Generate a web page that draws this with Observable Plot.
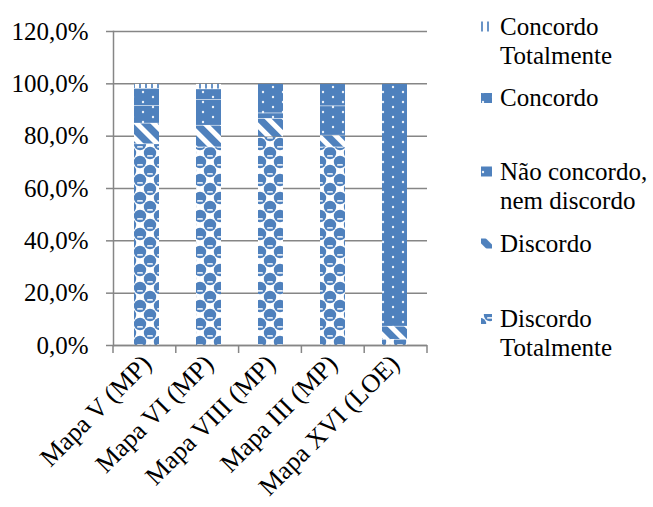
<!DOCTYPE html>
<html>
<head>
<meta charset="utf-8">
<script src="https://cdn.jsdelivr.net/npm/d3@7"></script>
<script src="https://cdn.jsdelivr.net/npm/@observablehq/plot@0.6"></script>
<style>
  body { margin: 0; background: #fff; }
  #chart { position: relative; width: 653px; height: 507px; font-family: "Liberation Serif", serif; }
  #legend { position: absolute; left: 0; top: 0; pointer-events: none; }
</style>
</head>
<body>
<!-- Fill patterns shared by the bars and the legend swatches -->
<svg width="0" height="0" style="position:absolute">
  <defs>
    <pattern id="pCT" patternUnits="userSpaceOnUse" width="6" height="8">
      <rect width="6" height="8" fill="#fff"/>
      <rect x="1" width="2" height="8" fill="#4f81bd" opacity="0.85"/>
    </pattern>
    <pattern id="pC" patternUnits="userSpaceOnUse" width="20" height="10">
      <rect width="20" height="10" fill="#4f81bd"/>
      <circle cx="3" cy="2" r="1.2" fill="#fff" opacity="0.9"/>
      <circle cx="13" cy="7" r="1.2" fill="#fff" opacity="0.9"/>
    </pattern>
    <pattern id="pN" patternUnits="userSpaceOnUse" width="20" height="10">
      <rect width="20" height="10" fill="#4f81bd"/>
      <circle cx="3" cy="2" r="1.2" fill="#fff" opacity="0.9"/>
      <circle cx="13" cy="7" r="1.2" fill="#fff" opacity="0.9"/>
    </pattern>
    <pattern id="pD" patternUnits="userSpaceOnUse" width="12" height="12" patternTransform="rotate(-45)">
      <rect width="12" height="12" fill="#fff"/>
      <rect width="7" height="12" fill="#4f81bd"/>
    </pattern>
    <pattern id="pDT" patternUnits="userSpaceOnUse" width="20" height="18">
      <rect width="20" height="18" fill="#fff"/>
      <g fill="#4f81bd">
        <circle cx="0" cy="0" r="6.2"/>
        <circle cx="20" cy="0" r="6.2"/>
        <circle cx="0" cy="18" r="6.2"/>
        <circle cx="20" cy="18" r="6.2"/>
        <circle cx="10" cy="9" r="6.2"/>
      </g>
      <g fill="#e4ecf6">
        <rect x="7" y="11" width="6" height="1.8" rx="0.9"/>
        <rect x="-3" y="2" width="6" height="1.8" rx="0.9"/>
        <rect x="17" y="2" width="6" height="1.8" rx="0.9"/>
        <rect x="-3" y="20" width="6" height="1.8" rx="0.9"/>
        <rect x="17" y="20" width="6" height="1.8" rx="0.9"/>
      </g>
    </pattern>
  </defs>
</svg>
<div id="chart"></div>
<script>
// Maps evaluated and the five answer levels (bottom of the stack first)
const mapas = ["Mapa V (MP)", "Mapa VI (MP)", "Mapa VIII (MP)", "Mapa III (MP)", "Mapa XVI (LOE)"];
const respostas = ["Discordo Totalmente", "Discordo", "Não concordo, nem discordo", "Concordo", "Concordo Totalmente"];

// Share of answers per map (%)
const discordoTotalmente = [77.0, 75.8, 79.7, 75.8, 2.3];
const discordo           = [7.9, 8.3, 7.0, 4.5, 5.0];
const naoConcordo        = [6.8, 9.8, 2.1, 11.2, 0];
const concordo           = [6.5, 4.1, 11.2, 8.5, 92.7];
const concordoTotalmente = [1.8, 2.0, 0, 0, 0];

const yTicks = [0, 20, 40, 60, 80, 100, 120];

// Legend text, top entry first, split the way it wraps
const legendLines = [
  ["Concordo", "Totalmente"],
  ["Concordo"],
  ["Não concordo,", "nem discordo"],
  ["Discordo"],
  ["Discordo", "Totalmente"]
];

const fills = ["url(#pDT)", "url(#pD)", "url(#pN)", "url(#pC)", "url(#pCT)"];
const series = [discordoTotalmente, discordo, naoConcordo, concordo, concordoTotalmente];

const rows = [];
mapas.forEach((mapa, i) => {
  respostas.forEach((resposta, j) => {
    rows.push({mapa, resposta, valor: series[j][i]});
  });
});

const serif = "Liberation Serif, serif";
const fontSize = 25;
const axisGray = "#868686";
const pct = d => d.toFixed(1).replace(".", ",") + "%";

const plot = Plot.plot({
  width: 653,
  height: 507,
  marginLeft: 113,
  marginRight: 226,
  marginTop: 31,
  marginBottom: 162,
  style: {fontFamily: serif, fontSize: fontSize + "px", color: "#000", background: "#fff"},
  x: {domain: mapas, paddingInner: 0.6, paddingOuter: 0.3, label: null},
  y: {domain: [0, 120], ticks: yTicks, label: null},
  color: {domain: respostas, range: fills},
  marks: [
    Plot.gridY(yTicks, {stroke: axisGray, strokeOpacity: 1, strokeWidth: 1.5}),
    Plot.barY(rows.filter(d => d.valor > 0), {
      x: "mapa", y: "valor", fill: "resposta", insetTop: 0.6
    }),
    Plot.ruleY([0], {stroke: axisGray, strokeWidth: 1.5}),
    Plot.frame({anchor: "left", stroke: axisGray, strokeWidth: 1.5}),
    Plot.axisY(yTicks, {tickSize: 7, tickPadding: 18, stroke: axisGray, strokeWidth: 1.5, fill: "#000",
      tickFormat: pct, fontSize, fontFamily: serif}),
    Plot.axisX({tickSize: 0, tickRotate: -45, tickPadding: 14, fill: "#000", fontSize: 26, fontFamily: serif}),
    // category boundary ticks below the x axis
    (index, scales, values, dims) => {
      const g = d3.create("svg:g").attr("stroke", axisGray).attr("stroke-width", 1.5);
      const x0 = dims.marginLeft;
      const step = (dims.width - dims.marginLeft - dims.marginRight) / mapas.length;
      const yb = dims.height - dims.marginBottom;
      for (let i = 0; i <= mapas.length; i++) {
        g.append("line").attr("x1", x0 + i * step).attr("x2", x0 + i * step).attr("y1", yb).attr("y2", yb + 8);
      }
      return g.node();
    }
  ]
});

const chart = document.getElementById("chart");
chart.appendChild(plot);

// Legend on the right, top entry = top of the stack
const baselines = [34.5, 106, 179.5, 251.5, 327];
const lineHeight = 29;
const legend = d3.select(chart).append("svg")
  .attr("id", "legend").attr("width", 653).attr("height", 507);
legendLines.forEach((lines, k) => {
  const respostaIdx = respostas.length - 1 - k;
  const b = baselines[k];
  legend.append("rect")
    .attr("x", 481).attr("y", b - 13).attr("width", 11).attr("height", 10)
    .attr("fill", fills[respostaIdx]);
  const t = legend.append("text")
    .attr("x", 500).attr("y", b)
    .attr("font-family", serif)
    .attr("font-size", fontSize).attr("fill", "#000");
  lines.forEach((line, l) => {
    t.append("tspan").attr("x", 500).attr("y", b + l * lineHeight).text(line);
  });
});
</script>
</body>
</html>
